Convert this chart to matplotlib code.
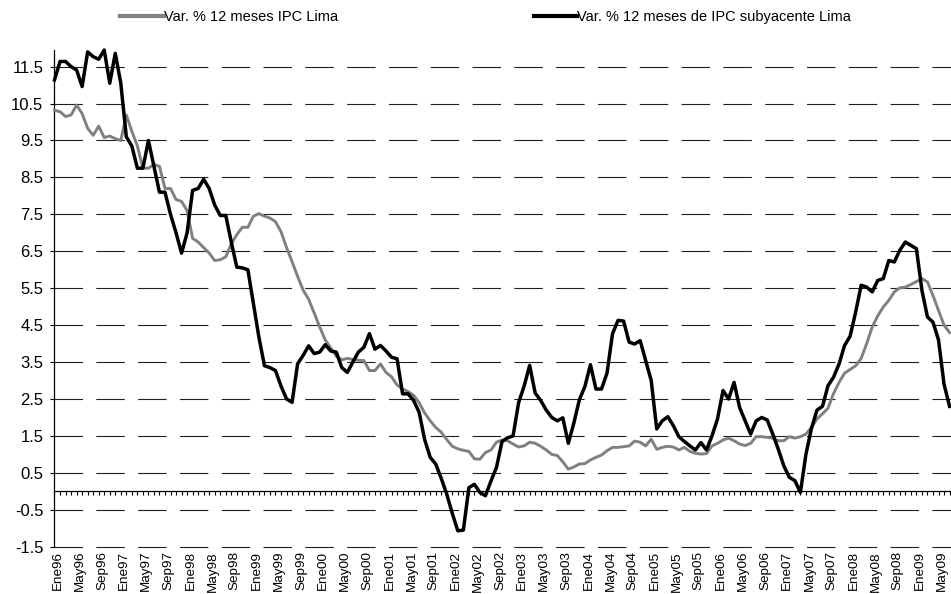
import numpy as np
import matplotlib
matplotlib.use("Agg")
import matplotlib.pyplot as plt
import matplotlib.transforms as mtransforms

plt.rcParams['font.family'] = ['Liberation Sans', 'DejaVu Sans']
plt.rcParams['axes.unicode_minus'] = False
plt.rcParams['lines.scale_dashes'] = False

# serie mensual Ene96 - Jul09
anios = [96, 97, 98, 99, 0, 1, 2, 3, 4, 5, 6, 7, 8, 9]
meses_etiqueta = ['Ene', 'May', 'Sep']

ipc_lima = [
    10.32, 10.28, 10.15, 10.19, 10.46, 10.23, 9.83, 9.64, 9.89, 9.58, 9.62, 9.55,
    9.50, 10.19, 9.75, 9.35, 8.75, 8.75, 8.85, 8.80, 8.20, 8.20, 7.90, 7.85,
    7.60, 6.85, 6.75, 6.60, 6.45, 6.25, 6.27, 6.35, 6.70, 6.95, 7.15, 7.15,
    7.45, 7.52, 7.45, 7.40, 7.30, 7.03, 6.60, 6.22, 5.82, 5.45, 5.20, 4.83,
    4.45, 4.10, 3.88, 3.66, 3.56, 3.60, 3.57, 3.55, 3.54, 3.27, 3.27, 3.45,
    3.22, 3.10, 2.88, 2.77, 2.70, 2.60, 2.40, 2.12, 1.91, 1.73, 1.60, 1.40,
    1.22, 1.15, 1.11, 1.08, 0.88, 0.87, 1.05, 1.12, 1.33, 1.39, 1.37, 1.28,
    1.20, 1.23, 1.33, 1.30, 1.22, 1.12, 1.00, 0.97, 0.80, 0.60, 0.66, 0.74,
    0.75, 0.85, 0.92, 0.98, 1.10, 1.19, 1.19, 1.21, 1.23, 1.36, 1.33, 1.23,
    1.41, 1.14, 1.19, 1.22, 1.20, 1.12, 1.19, 1.08, 1.03, 1.01, 1.02, 1.23,
    1.30, 1.39, 1.44, 1.37, 1.28, 1.24, 1.30, 1.48, 1.48, 1.46, 1.44, 1.37,
    1.37, 1.48, 1.44, 1.48, 1.55, 1.73, 1.96, 2.10, 2.25, 2.65, 2.95, 3.20,
    3.30, 3.40, 3.60, 4.00, 4.45, 4.75, 4.99, 5.17, 5.40, 5.51, 5.53, 5.60,
    5.68, 5.76, 5.67, 5.30, 4.90, 4.50, 4.30,
]

ipc_subyacente = [
    11.14, 11.64, 11.64, 11.50, 11.41, 10.96, 11.90, 11.77, 11.70, 11.95, 11.05, 11.86,
    11.05, 9.60, 9.35, 8.75, 8.75, 9.50, 8.80, 8.10, 8.10, 7.50, 7.00, 6.45,
    7.00, 8.15, 8.20, 8.45, 8.20, 7.75, 7.47, 7.47, 6.75, 6.07, 6.05, 6.00,
    5.08, 4.17, 3.40, 3.35, 3.27, 2.85, 2.50, 2.41, 3.45, 3.68, 3.94, 3.73,
    3.77, 3.97, 3.80, 3.77, 3.35, 3.22, 3.50, 3.77, 3.90, 4.27, 3.85, 3.95,
    3.80, 3.63, 3.59, 2.64, 2.64, 2.46, 2.14, 1.40, 0.92, 0.74, 0.35, -0.08,
    -0.60, -1.07, -1.05, 0.10, 0.19, -0.03, -0.12, 0.28, 0.65, 1.35, 1.45, 1.50,
    2.40, 2.85, 3.41, 2.66, 2.46, 2.20, 2.00, 1.91, 1.99, 1.30, 1.85, 2.48,
    2.84, 3.43, 2.77, 2.77, 3.20, 4.27, 4.63, 4.61, 4.04, 3.99, 4.08, 3.54,
    3.00, 1.69, 1.91, 2.02, 1.78, 1.48, 1.35, 1.23, 1.12, 1.32, 1.12, 1.50,
    1.96, 2.73, 2.50, 2.95, 2.27, 1.91, 1.55, 1.91, 2.00, 1.93, 1.55, 1.14,
    0.69, 0.38, 0.29, -0.03, 1.00, 1.70, 2.20, 2.30, 2.86, 3.09, 3.45, 3.95,
    4.20, 4.85, 5.58, 5.53, 5.40, 5.71, 5.76, 6.25, 6.21, 6.53, 6.75, 6.66,
    6.57, 5.44, 4.72, 4.58, 4.10, 2.90, 2.30,
]

nombres = ['Var. % 12 meses IPC Lima', 'Var. % 12 meses de IPC subyacente Lima']

n = len(ipc_lima)
x = np.arange(n)
etiquetas = [f'{m}{a:02d}' for a in anios for m in meses_etiqueta]
pos_etiquetas = np.arange(0, n, 4)
etiquetas = etiquetas[:len(pos_etiquetas)]

fig = plt.figure(figsize=(9.51, 5.94), dpi=100)
ax = fig.add_axes([0.0573, 0.0796, 0.9427, 0.8362])

l1, = ax.plot(x, ipc_lima, color='#808080', lw=2.1, label=nombres[0], zorder=3)
l2, = ax.plot(x, ipc_subyacente, color='black', lw=2.5, label=nombres[1], zorder=4)
for l in (l1, l2):
    l.set_clip_on(False)

ax.set_xlim(0, 162.26)
ax.set_ylim(-1.5, 11.95)

# eje y
ax.set_yticks(np.arange(-1.5, 12, 1.0))
ax.set_yticklabels([f'{v:.1f}' for v in np.arange(-1.5, 12, 1.0)])
ax.tick_params(axis='y', direction='out', length=3, width=0.8, labelsize=12, pad=5)
ax.yaxis.grid(True, linestyle=(0, (20.5, 9.6)), color='#202020', lw=0.8)
for g in ax.yaxis.get_gridlines():
    g.set_clip_on(False)
ax.set_axisbelow(True)

# eje x cruzando en cero, una marca por mes
ax.spines['bottom'].set_position(('data', 0))
ax.spines['bottom'].set_linewidth(0.9)
ax.set_xticks(x)
ax.tick_params(axis='x', direction='out', length=3, width=0.8, labelbottom=False)
ax.spines['left'].set_linewidth(0.9)
ax.spines['top'].set_visible(False)
ax.spines['right'].set_visible(False)

# etiquetas de meses abajo
sec = ax.secondary_xaxis('bottom')
sec.set_xticks(pos_etiquetas)
sec.set_xticklabels(etiquetas, rotation=90, fontsize=9.7)
sec.tick_params(length=0, pad=3)
sec.spines['bottom'].set_visible(False)
desplaza = mtransforms.ScaledTranslation(2.5 / 72, 0, fig.dpi_scale_trans)
for lbl in sec.get_xticklabels():
    lbl.set_transform(lbl.get_transform() + desplaza)

leg = fig.legend(handles=[l1, l2], loc='center left', bbox_to_anchor=(0.1127, 0.971),
                 ncol=2, frameon=False, fontsize=10.5, handlelength=3.0,
                 handletextpad=0.0, columnspacing=13.4)
for lh in leg.get_lines():
    lh.set_linewidth(3.0)

fig.savefig('out.png', dpi=100)
